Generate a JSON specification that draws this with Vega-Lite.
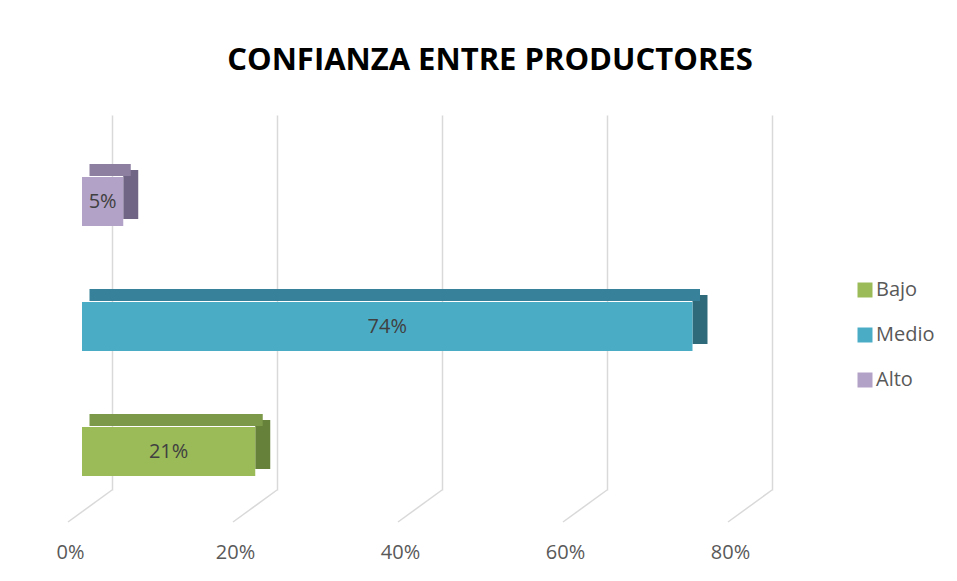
{
  "$schema": "https://vega.github.io/schema/vega-lite/v6.json",
  "width": 660,
  "height": 375,
  "autosize": "none",
  "padding": {"left": 112, "top": 115, "right": 185, "bottom": 91},
  "background": "white",
  "config": {"view": {"stroke": null}, "font": "Open Sans"},
  "title": {
    "text": "CONFIANZA ENTRE PRODUCTORES",
    "font": "Open Sans",
    "fontWeight": "bold",
    "fontSize": 31,
    "color": "#000000",
    "anchor": "middle",
    "dx": 48,
    "offset": 38
  },
  "datasets": {
    "main": [
      {"cat": "Bajo", "v": 0.21},
      {"cat": "Medio", "v": 0.74},
      {"cat": "Alto", "v": 0.05}
    ],
    "ticks": [{"t": 0}, {"t": 0.2}, {"t": 0.4}, {"t": 0.6}, {"t": 0.8}]
  },
  "resolve": {"scale": {"x": "independent", "fill": "independent"}},
  "layer": [
    {
      "data": {"name": "ticks"},
      "mark": {"type": "rule", "color": "#d9d9d9", "strokeWidth": 1.5, "x2Offset": -44, "y2Offset": 32},
      "encoding": {
        "x": {"field": "t", "type": "quantitative", "scale": {"domain": [0, 0.8], "nice": false}, "axis": null},
        "x2": {"field": "t"},
        "y": {"value": {"expr": "height"}},
        "y2": {"value": {"expr": "height"}}
      }
    },
    {
      "data": {"name": "main"},
      "mark": {"type": "bar", "size": 49, "yOffset": 17, "xOffset": -30, "x2Offset": -15},
      "encoding": {
        "y": {"field": "cat", "type": "nominal", "sort": ["Alto", "Medio", "Bajo"], "scale": {"paddingInner": 0, "paddingOuter": 0}, "axis": null},
        "x": {"field": "v", "type": "quantitative", "scale": {"domain": [0, 0.8], "nice": false}, "axis": null},
        "x2": {"field": "v"},
        "fill": {"field": "cat", "type": "nominal", "scale": {"domain": ["Bajo", "Medio", "Alto"], "range": ["#66813a", "#2e6a7a", "#706584"]}, "legend": null}
      }
    },
    {
      "data": {"name": "main"},
      "mark": {"type": "bar", "size": 12, "yOffset": -7.5, "xOffset": -22.5, "x2Offset": -22.5},
      "encoding": {
        "y": {"field": "cat", "type": "nominal", "sort": ["Alto", "Medio", "Bajo"], "axis": null},
        "x": {"field": "v", "type": "quantitative", "scale": {"domain": [0, 0.8], "nice": false}, "axis": null},
        "fill": {"field": "cat", "type": "nominal", "scale": {"domain": ["Bajo", "Medio", "Alto"], "range": ["#7b9948", "#37819a", "#8c7fa0"]}, "legend": null}
      }
    },
    {
      "data": {"name": "main"},
      "mark": {"type": "bar", "size": 49, "yOffset": 24, "xOffset": -30, "x2Offset": -30},
      "encoding": {
        "y": {"field": "cat", "type": "nominal", "sort": ["Alto", "Medio", "Bajo"], "axis": null},
        "x": {
          "field": "v",
          "type": "quantitative",
          "scale": {"domain": [0, 0.8], "nice": false},
          "axis": {
            "values": [0, 0.2, 0.4, 0.6, 0.8],
            "format": ".0%",
            "title": null,
            "grid": true,
            "gridColor": "#d9d9d9",
            "gridWidth": 1.5,
            "domain": false,
            "ticks": false,
            "labelOffset": -42,
            "labelPadding": 52,
            "labelFlush": false,
            "labelOverlap": false,
            "labelFont": "Open Sans",
            "labelFontSize": 20,
            "labelColor": "#595959"
          }
        },
        "color": {
          "field": "cat",
          "type": "nominal",
          "scale": {"domain": ["Bajo", "Medio", "Alto"], "range": ["#9bbb59", "#4bacc6", "#b3a2c7"]},
          "legend": {
            "orient": "none",
            "legendX": 743,
            "legendY": 165,
            "title": null,
            "padding": 0,
            "symbolType": "square",
            "symbolSize": 225,
            "symbolStrokeWidth": 0,
            "labelFont": "Open Sans",
            "labelFontSize": 20,
            "labelColor": "#595959",
            "labelOffset": 1,
            "rowPadding": 25
          }
        }
      }
    },
    {
      "data": {"name": "main"},
      "mark": {"type": "text", "xOffset": -30, "yOffset": 24, "fontSize": 20, "font": "Open Sans", "color": "#404040", "align": "center", "baseline": "middle"},
      "encoding": {
        "y": {"field": "cat", "type": "nominal", "sort": ["Alto", "Medio", "Bajo"], "axis": null},
        "x": {"field": "v", "type": "quantitative", "scale": {"domain": [0, 1.6], "nice": false}, "axis": null},
        "text": {"field": "v", "type": "quantitative", "format": ".0%"}
      }
    }
  ]
}
